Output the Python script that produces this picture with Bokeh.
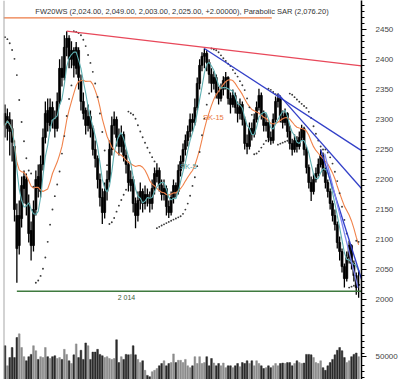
import pandas as pd
from bokeh.plotting import figure
from bokeh.models import Range1d, LinearAxis, FixedTicker, Span, Label, ColumnDataSource
from bokeh.embed import file_html
from bokeh.resources import INLINE

title_text = "FW20WS (2,024.00, 2,049.00, 2,003.00, 2,025.00, +2.00000), Parabolic SAR (2,076.20)"

opens = [2310,2285,2300,2285,2255,2140,2090,2135,2185,2200,
         2160,2115,2090,2150,2205,2180,2225,2270,2315,2290,
         2320,2300,2285,2330,2385,2370,2420,2435,2400,2415,
         2385,2415,2365,2330,2315,2290,2305,2285,2250,2235,
         2200,2170,2145,2180,2200,2250,2290,2300,2270,2255,
         2275,2240,2225,2190,2200,2160,2140,2165,2180,2160,
         2175,2170,2160,2185,2205,2215,2190,2175,2185,2155,
         2145,2170,2190,2180,2215,2230,2250,2265,2280,2300,
         2295,2320,2360,2390,2405,2410,2395,2375,2360,2370,
         2345,2335,2350,2365,2370,2335,2325,2340,2320,2310,
         2325,2300,2260,2255,2285,2275,2300,2320,2340,2310,
         2290,2295,2270,2265,2300,2330,2335,2305,2295,2310,
         2280,2260,2250,2265,2255,2270,2285,2250,2220,2195,
         2180,2200,2210,2225,2240,2215,2195,2180,2160,2140,
         2125,2095,2080,2055,2035,2070,2090,2060,2040,2024]
highs = [2325,2318,2312,2300,2265,2160,2165,2205,2215,2210,
         2175,2130,2165,2215,2225,2240,2285,2330,2335,2335,
         2330,2315,2345,2400,2405,2440,2447,2440,2430,2420,
         2429,2420,2375,2345,2320,2325,2315,2290,2265,2240,
         2210,2185,2195,2215,2265,2305,2313,2305,2285,2290,
         2280,2250,2230,2215,2205,2170,2180,2195,2185,2190,
         2185,2180,2200,2220,2227,2220,2200,2200,2190,2165,
         2180,2200,2195,2225,2240,2260,2275,2290,2310,2310,
         2335,2370,2400,2412,2418,2415,2400,2385,2380,2375,
         2355,2360,2372,2379,2372,2345,2350,2345,2330,2335,
         2330,2305,2275,2295,2295,2310,2330,2351,2345,2315,
         2310,2300,2280,2310,2338,2343,2340,2315,2318,2312,
         2290,2268,2275,2272,2280,2291,2288,2255,2225,2205,
         2210,2220,2235,2250,2245,2220,2200,2185,2165,2150,
         2130,2105,2085,2060,2080,2098,2092,2065,2045,2049]
lows = [2270,2265,2240,2230,2130,2028,2075,2120,2160,2140,
        2095,2065,2080,2140,2170,2170,2215,2260,2280,2280,
        2285,2270,2280,2325,2355,2365,2405,2385,2385,2370,
        2375,2350,2315,2300,2275,2280,2270,2240,2220,2185,
        2155,2126,2135,2165,2195,2240,2275,2255,2240,2245,
        2230,2210,2180,2180,2145,2119,2130,2150,2145,2150,
        2155,2145,2150,2175,2195,2180,2165,2165,2140,2136,
        2140,2160,2170,2175,2205,2220,2240,2255,2270,2280,
        2290,2315,2350,2380,2385,2380,2360,2345,2350,2335,
        2325,2330,2340,2350,2325,2310,2320,2310,2295,2300,
        2290,2250,2242,2250,2265,2270,2295,2315,2300,2280,
        2280,2262,2258,2260,2295,2320,2295,2285,2290,2270,
        2250,2240,2245,2245,2250,2265,2240,2210,2185,2164,
        2175,2195,2205,2220,2205,2185,2170,2150,2130,2115,
        2085,2065,2045,2020,2030,2060,2050,2030,2008,2003]
closes = [2290,2305,2280,2262,2150,2085,2140,2190,2205,2160,
          2110,2090,2150,2200,2185,2225,2270,2310,2295,2320,
          2300,2285,2330,2385,2370,2420,2435,2400,2415,2390,
          2420,2370,2330,2310,2290,2305,2285,2250,2235,2200,
          2170,2145,2180,2200,2250,2290,2300,2270,2255,2275,
          2240,2225,2195,2200,2160,2140,2165,2180,2160,2175,
          2170,2160,2185,2210,2215,2190,2175,2185,2155,2145,
          2170,2190,2180,2215,2230,2250,2265,2280,2300,2295,
          2320,2360,2390,2405,2410,2395,2375,2360,2370,2345,
          2335,2350,2365,2370,2335,2325,2340,2320,2310,2325,
          2300,2260,2255,2285,2275,2300,2320,2340,2310,2290,
          2295,2270,2265,2300,2330,2335,2305,2295,2310,2280,
          2260,2250,2265,2255,2270,2285,2250,2220,2195,2180,
          2200,2210,2225,2240,2215,2195,2180,2160,2140,2125,
          2095,2080,2055,2035,2070,2090,2060,2040,2020,2025]
volumes_k = [74,30,48,70,48,92,100,
             70,50,41,50,55,74,63,44,50,48,70,
             50,46,50,52,46,48,44,66,55,41,
             35,54,78,48,64,44,80,74,44,60,60,66,55,
             52,48,50,46,44,46,87,37,50,44,55,54,55,74,54,44,37,
             41,20,9,6,17,20,24,30,
             35,41,30,35,37,56,37,42,42,37,44,30,26,30,50,35,50,
             35,37,50,30,46,36,30,35,30,36,26,30,30,
             26,30,35,28,37,35,41,35,41,30,41,35,30,
             24,26,30,26,30,35,30,35,36,35,37,37,
             30,35,41,37,35,36,55,55,
             54,48,37,35,41,26,20,30,37,
             44,54,64,70,63,48,37,41,50,55,58,50]

sar_start = 2437            # first SAR dot, read at the left edge
support_level = 2014
support_label = "2 014"
price_ticks = [2000, 2050, 2100, 2150, 2200, 2250, 2300, 2350, 2400, 2450]
volume_tick = 50000
# trend lines: (bar index, price) start -> end
trend_x0 = [26, 84, 115, 133, 134.7]
trend_y0 = [2447, 2418, 2343, 2250, 2243]
trend_x1 = [150.21, 150.21, 150.21, 150.21, 148.7]
trend_y1 = [2389, 2248, 2185, 2034, 2020]
trend_colors = ["#e8485a", "#3340c8", "#3340c8", "#3340c8", "#7f86f0"]

n = len(closes)
xs = list(range(n))
volumes = [v * 1000 for v in volumes_k]

# indicators from the closes / highs / lows
s = pd.Series(closes, dtype=float)
sma5 = s.rolling(5, min_periods=1).mean().tolist()
sma15 = s.rolling(15, min_periods=1).mean().tolist()

sar = [float(sar_start)]
bull = False
af = 0.02
ep = lows[0]
for i in range(1, n):
    prev = sar[-1]
    cur = prev + af * (ep - prev)
    if bull:
        cur = min(cur, lows[i - 1], lows[i - 2] if i >= 2 else lows[i - 1])
        if lows[i] < cur:
            bull, cur, ep, af = False, ep, lows[i], 0.02
        elif highs[i] > ep:
            ep, af = highs[i], min(af + 0.02, 0.2)
    else:
        cur = max(cur, highs[i - 1], highs[i - 2] if i >= 2 else highs[i - 1])
        if highs[i] > cur:
            bull, cur, ep, af = True, ep, highs[i], 0.02
        elif lows[i] < ep:
            ep, af = lows[i], min(af + 0.02, 0.2)
    sar.append(cur)

src = ColumnDataSource(dict(
    x=xs, o=opens, h=highs, l=lows, c=closes,
    top=[max(a, b) for a, b in zip(opens, closes)],
    bot=[min(a, b) for a, b in zip(opens, closes)],
    vol=volumes,
    vcol=["#8c8c8c" if c >= o else "#2b2b2b" for o, c in zip(opens, closes)],
    sma5=sma5, sma15=sma15, sar=sar,
))

y0, y1 = 1867, 2498
x0, x1 = -0.63, 150.21
vol_tick_pos = 1905
vol_end = volume_tick * (y1 - y0) / (vol_tick_pos - y0)

p = figure(width=400, height=379, x_range=Range1d(x0, x1), y_range=Range1d(y0, y1),
           output_backend="svg", toolbar_location=None,
           x_axis_location=None, y_axis_location=None,
           min_border_left=3, min_border_right=38, min_border_top=0, min_border_bottom=0)
p.outline_line_color = None
p.xgrid.visible = False
p.ygrid.visible = False
p.background_fill_color = "white"
p.border_fill_color = "white"
p.extra_y_ranges = {"vol": Range1d(0, vol_end)}

# volume
p.vbar(x="x", top="vol", bottom=0, width=0.72, source=src, y_range_name="vol",
       fill_color="vcol", line_color="vcol", line_width=0.5)

# candles
p.segment(x0="x", y0="l", x1="x", y1="h", source=src, line_color="black", line_width=1.3)
p.vbar(x="x", top="top", bottom="bot", width=0.85, source=src,
       fill_color="black", line_color="black", line_width=0.7)

# moving averages
p.line("x", "sma15", source=src, line_color="#f0824a", line_width=1.1)
p.line("x", "sma5", source=src, line_color="#5fb0b2", line_width=1.1)

# parabolic SAR
p.scatter("x", "sar", source=src, marker="circle", size=1.9,
          fill_color="#3a3a3a", line_color=None)

# trend lines
p.segment(x0=trend_x0, y0=trend_y0, x1=trend_x1, y1=trend_y1,
          line_color=trend_colors, line_width=1.3)

# support line
p.segment(x0=[5], y0=[support_level], x1=[x1], y1=[support_level],
          line_color="#3f7a3f", line_width=1.6)
p.add_layout(Label(x=47.5, y=support_level, text=support_label, text_font="Liberation Sans",
                   text_font_size="7px", text_color="#40603a", text_baseline="top", y_offset=-3))

# indicator labels
p.add_layout(Label(x=73.7, y=2222, text="SK-5", text_font="Liberation Sans",
                   text_font_size="7.5px", text_color="#5aa5a7", text_baseline="middle"))
p.add_layout(Label(x=83.4, y=2303, text="SK-15", text_font="Liberation Sans",
                   text_font_size="7.5px", text_color="#e8763e", text_baseline="middle"))

# title + underline
p.add_layout(Label(x=12.8, y=2480, text=title_text, text_font="Liberation Sans",
                   text_font_size="7.5px", text_color="#333333", text_baseline="middle"))
p.segment(x0=[x0], y0=[2469], x1=[112.4], y1=[2469], line_color="#ec7a45", line_width=1.4)

# left frame border
p.add_layout(Span(location=x0, dimension="height", line_color="#a8a8a8", line_width=2))

# right axis
minor = [v for v in range(1870, 2495, 10) if v % 50 != 0]
ax = LinearAxis(ticker=FixedTicker(ticks=price_ticks + [vol_tick_pos], minor_ticks=minor))
ax.major_label_overrides = {vol_tick_pos: "50000"}
ax.axis_line_color = "black"
ax.axis_line_width = 1.5
ax.major_tick_out = 5
ax.major_tick_in = 0
ax.minor_tick_out = 3
ax.minor_tick_in = 0
ax.major_tick_line_width = 1.2
ax.major_label_standoff = 9
ax.major_label_text_font = "Liberation Sans"
ax.major_label_text_font_size = "8px"
ax.major_label_text_color = "#444444"
p.add_layout(ax, "right")

open("out.html", "w").write(file_html(p, INLINE))
